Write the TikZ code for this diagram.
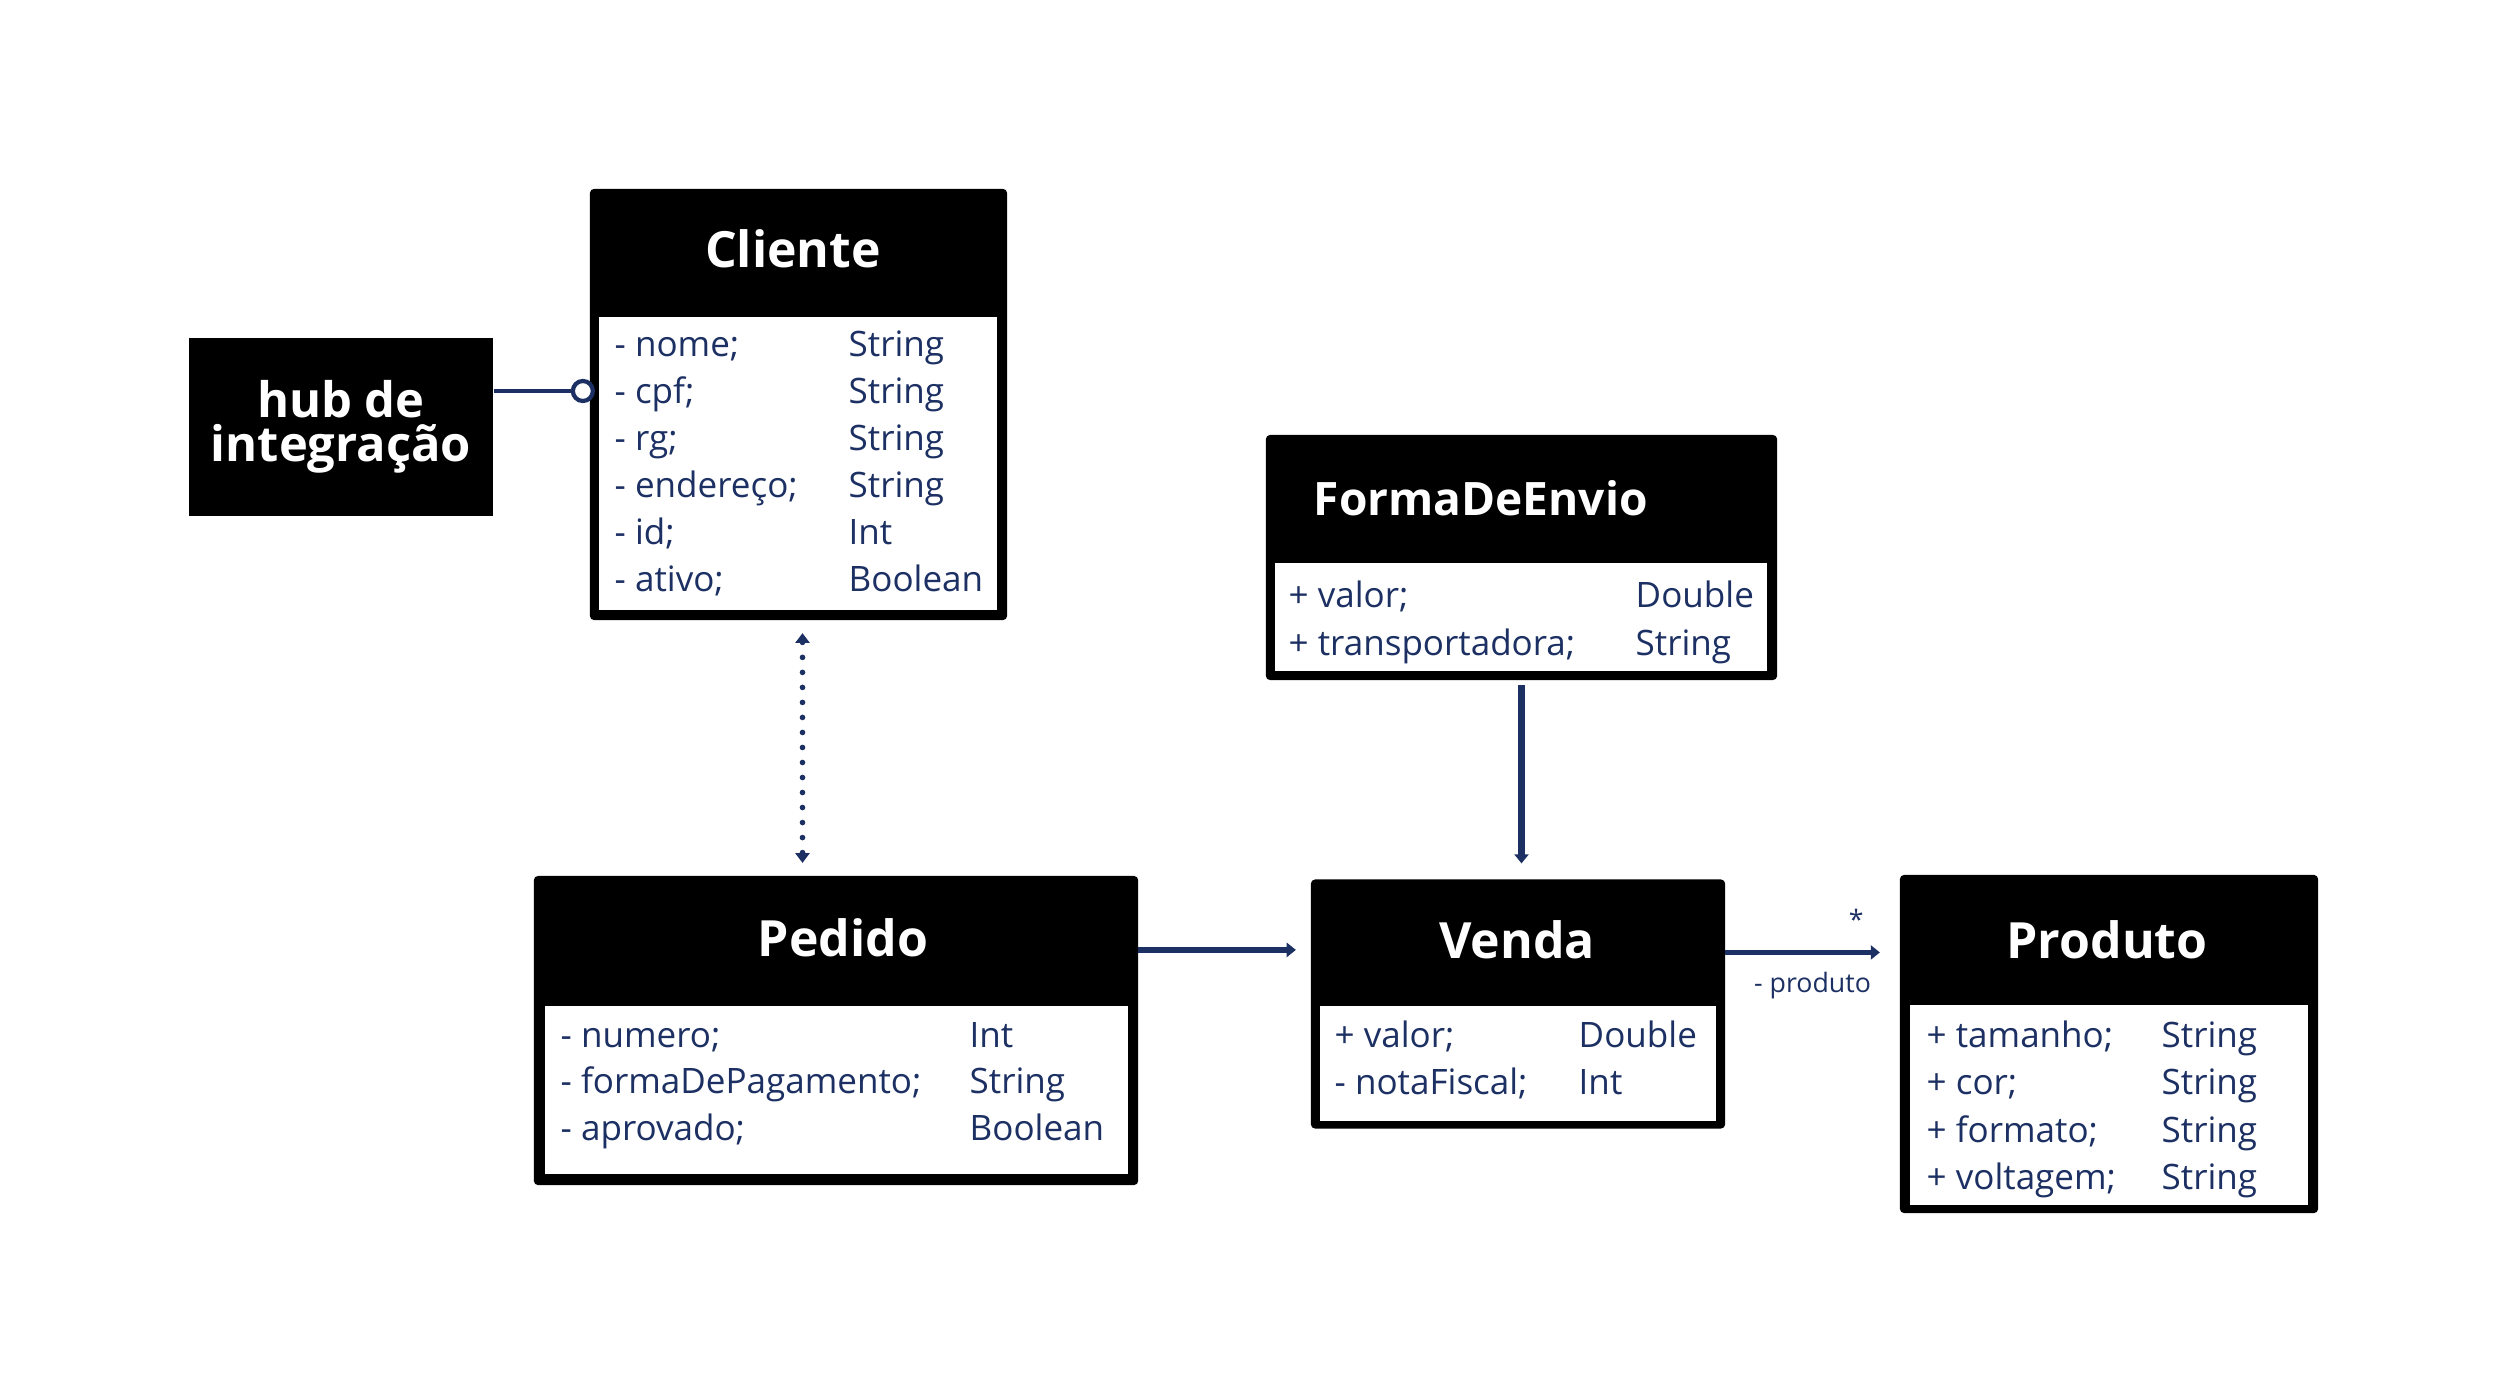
\documentclass[tikz,border=0pt]{standalone}
\usepackage{fontspec}
\setmainfont{Open Sans}
\usetikzlibrary{arrows.meta,calc}
\definecolor{navy}{HTML}{1C3063}
\begin{document}
\begin{tikzpicture}[x=0.01cm,y=-0.01cm,
  classbox/.style={fill=black, rounded corners=1.2pt, inner sep=0pt, outer sep=0pt},
  inbox/.style={fill=white},
  attr/.style={text=navy, font=\fontsize{9.96pt}{12pt}\selectfont, inner sep=0pt, anchor=base west},
  ctitle/.style={text=white, font=\bfseries\fontsize{14.2pt}{16pt}\selectfont, inner sep=0pt, anchor=base},
  conn/.style={draw=navy, line width=1.56pt},
  tip/.style={-{Triangle[length=2.6pt,width=4pt]}},
  small/.style={text=navy, font=\fontsize{7.6pt}{9pt}\selectfont, inner sep=0pt}
]
\useasboundingbox (0,0) rectangle (2500,1400);
\fill[white] (0,0) rectangle (2500,1400);

% hub
\node[fill=black, inner sep=0pt, minimum width=3.04cm, minimum height=1.78cm, text=white, align=center,
  font=\bfseries\fontsize{13.9pt}{12.4pt}\selectfont] (hub) at (341,427) {hub de\\integração};

% Cliente
\node[classbox, minimum width=4.17cm, minimum height=4.31cm] (cliente) at (798.5,404.5) {};
\fill[inbox] ($(cliente.north west)+(9,128)$) rectangle ($(cliente.south east)+(-10,-10)$);
\node[ctitle] (clienteT) at (793,268) {Cliente};
\node[attr] (c1) at (614,356) {- nome;};
\node[attr] (c2) at (614,403) {- cpf;};
\node[attr] (c3) at (614,450) {- rg;};
\node[attr] (c4) at (614,497) {- endereço;};
\node[attr] (c5) at (614,544) {- id;};
\node[attr] (c6) at (614,591) {- ativo;};
\node[attr] (ct1) at (848,356) {String};
\node[attr] (ct2) at (848,403) {String};
\node[attr] (ct3) at (848,450) {String};
\node[attr] (ct4) at (848,497) {String};
\node[attr] (ct5) at (848,544) {Int};
\node[attr] (ct6) at (848,591) {Boolean};

% FormaDeEnvio
\node[classbox, minimum width=5.11cm, minimum height=2.45cm] (forma) at (1521.5,557.5) {};
\fill[inbox] ($(forma.north west)+(9,128)$) rectangle ($(forma.south east)+(-10,-9)$);
\node[ctitle, anchor=base west, font=\bfseries\fontsize{13.1pt}{15pt}\selectfont] (formaT) at (1313,515) {FormaDeEnvio};
\node[attr] (f1) at (1288,607) {+ valor;};
\node[attr] (f2) at (1288,655) {+ transportadora;};
\node[attr] (ft1) at (1635,607) {Double};
\node[attr] (ft2) at (1635,655) {String};

% Pedido
\node[classbox, minimum width=6.04cm, minimum height=3.09cm] (pedido) at (836,1030.5) {};
\fill[inbox] ($(pedido.north west)+(11,130)$) rectangle ($(pedido.south east)+(-10,-11)$);
\node[ctitle] (pedidoT) at (843,956) {Pedido};
\node[attr] (p1t) at (560,1047) {- numero;};
\node[attr] (p2t) at (560,1093) {- formaDePagamento;};
\node[attr] (p3t) at (560,1140) {- aprovado;};
\node[attr] (pt1) at (969,1047) {Int};
\node[attr] (pt2) at (969,1093) {String};
\node[attr] (pt3) at (969,1140) {Boolean};

% Venda
\node[classbox, minimum width=4.14cm, minimum height=2.49cm] (venda) at (1518,1004) {};
\fill[inbox] ($(venda.north west)+(9,127)$) rectangle ($(venda.south east)+(-9,-8)$);
\node[ctitle] (vendaT) at (1517,958) {Venda};
\node[attr] (v1t) at (1334,1047) {+ valor;};
\node[attr] (v2t) at (1334,1094) {- notaFiscal;};
\node[attr] (vt1) at (1578,1047) {Double};
\node[attr] (vt2) at (1578,1094) {Int};

% Produto
\node[classbox, minimum width=4.18cm, minimum height=3.38cm] (produto) at (2109,1044) {};
\fill[inbox] ($(produto.north west)+(10,130)$) rectangle ($(produto.south east)+(-10,-8)$);
\node[ctitle] (produtoT) at (2107,958) {Produto};
\node[attr] (r1) at (1926,1047) {+ tamanho;};
\node[attr] (r2) at (1926,1094) {+ cor;};
\node[attr] (r3) at (1926,1142) {+ formato;};
\node[attr] (r4) at (1926,1189) {+ voltagem;};
\node[attr] (rt1) at (2161,1047) {String};
\node[attr] (rt2) at (2161,1094) {String};
\node[attr] (rt3) at (2161,1142) {String};
\node[attr] (rt4) at (2161,1189) {String};

% connectors
\coordinate (h1) at ($(hub.east)+(0,-36)$);
\coordinate (h2) at (h1 -| cliente.west);
\coordinate (h3) at ($(h2)+(-7,0)$);
\draw[navy, line width=1.2pt] (h1) -- (h3);
\draw[navy, line width=1.2pt, fill=white] (h3) circle[radius=0.1cm];

\coordinate (d1) at ($(cliente.south)+(4,13)$);
\coordinate (d2) at (d1 |- pedido.north);
\draw[navy, line width=1.6pt, line cap=round, dash pattern=on 0pt off 4.27pt,
  {Triangle[length=2.8pt,width=4pt]}-{Triangle[length=2.8pt,width=4pt]}, shorten >=0.13cm] (d1) -- (d2);

\draw[conn, line width=1.85pt, tip, shorten <=0.05cm, shorten >=0.16cm] (forma.south) -- (forma.south |- venda.north);

\coordinate (pv1) at ($(pedido.north east)+(0,74)$);
\draw[conn, tip, shorten >=0.15cm] (pv1) -- (pv1 -| venda.west);

\coordinate (vp1) at ($(venda.north east)+(0,73)$);
\draw[conn, tip, shorten >=0.2cm] (vp1) -- (vp1 -| produto.west)
  node[small, pos=0.75, anchor=south, yshift=0.2cm] (star) {*}
  node[small, pos=0.5, anchor=north, yshift=-0.17cm] (prodlabel) {- produto};
\end{tikzpicture}
\end{document}
